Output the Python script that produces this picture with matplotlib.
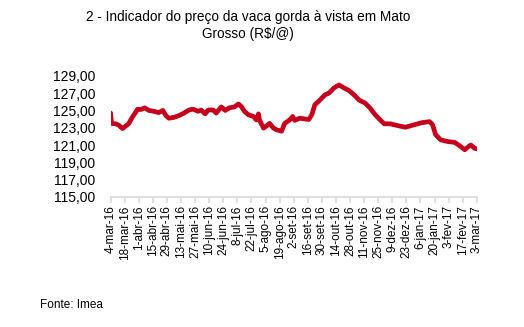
import matplotlib
matplotlib.use("Agg")
import matplotlib.pyplot as plt
import numpy as np
import pandas as pd

# price indicator, R$/@
dates = [
    "2016-03-04", "2016-03-05", "2016-03-09", "2016-03-12", "2016-03-16", "2016-03-19",
    "2016-03-22", "2016-03-25", "2016-03-31", "2016-04-03", "2016-04-07", "2016-04-11",
    "2016-04-16", "2016-04-21", "2016-04-25", "2016-04-28", "2016-05-01", "2016-05-06",
    "2016-05-11", "2016-05-16", "2016-05-21", "2016-05-25", "2016-05-30", "2016-06-02",
    "2016-06-06", "2016-06-09", "2016-06-14", "2016-06-17", "2016-06-22", "2016-06-26",
    "2016-06-30", "2016-07-05", "2016-07-09", "2016-07-12", "2016-07-15", "2016-07-19",
    "2016-07-24", "2016-07-27", "2016-07-29", "2016-07-30", "2016-08-03", "2016-08-06",
    "2016-08-09", "2016-08-13", "2016-08-16", "2016-08-21", "2016-08-24", "2016-08-29",
    "2016-09-01", "2016-09-03", "2016-09-08", "2016-09-17", "2016-09-20", "2016-09-23",
    "2016-09-28", "2016-10-03", "2016-10-07", "2016-10-12", "2016-10-17", "2016-10-22",
    "2016-10-27", "2016-11-01", "2016-11-06", "2016-11-12", "2016-11-17", "2016-11-22",
    "2016-11-27", "2016-12-01", "2016-12-07", "2016-12-14", "2016-12-22", "2016-12-31",
    "2017-01-08", "2017-01-15", "2017-01-18", "2017-01-21", "2017-01-26", "2017-02-02",
    "2017-02-09", "2017-02-14", "2017-02-19", "2017-02-22", "2017-02-25", "2017-03-01",
    "2017-03-03",
]
prices = [
    124.70, 123.50, 123.45, 123.30, 122.90, 123.20,
    123.45, 124.10, 125.15, 125.10, 125.30, 125.00,
    124.90, 124.75, 125.00, 124.40, 124.10, 124.20,
    124.40, 124.70, 125.05, 125.15, 124.90, 125.05,
    124.60, 125.05, 125.05, 124.70, 125.40, 125.00,
    125.30, 125.40, 125.75, 125.45, 124.90, 124.50,
    124.30, 123.90, 124.60, 123.90, 122.95, 123.20,
    123.50, 122.95, 122.75, 122.60, 123.50, 123.90,
    124.30, 123.85, 124.10, 123.95, 124.50, 125.65,
    126.20, 126.80, 127.00, 127.60, 127.95, 127.60,
    127.30, 126.80, 126.20, 125.85, 125.25, 124.50,
    123.90, 123.45, 123.45, 123.25, 123.05, 123.35,
    123.60, 123.70, 123.35, 122.20, 121.60, 121.40,
    121.30, 120.90, 120.45, 120.75, 121.00, 120.60,
    120.55,
]

tick_dates = pd.date_range("2016-03-04", "2017-03-03", freq="14D")
tick_labels = [
    "4-mar-16", "18-mar-16", "1-abr-16", "15-abr-16", "29-abr-16", "13-mai-16",
    "27-mai-16", "10-jun-16", "24-jun-16", "8-jul-16", "22-jul-16", "5-ago-16",
    "19-ago-16", "2-set-16", "16-set-16", "30-set-16", "14-out-16", "28-out-16",
    "11-nov-16", "25-nov-16", "9-dez-16", "23-dez-16", "6-jan-17", "20-jan-17",
    "3-fev-17", "17-fev-17", "3-mar-17",
]
y_ticks = np.arange(115, 130, 2)

plt.rcParams["font.family"] = ["Liberation Sans", "DejaVu Sans"]

fig = plt.figure(figsize=(5.24, 3.27), dpi=100)
ax = fig.add_axes([0.211, 0.398, 0.699, 0.370])

ax.plot(pd.to_datetime(dates), prices, color="#c4001c", lw=3.4,
        solid_joinstyle="round", solid_capstyle="round")

ax.set_xlim(tick_dates[0], tick_dates[-1])
ax.set_ylim(115, 129)
ax.set_yticks(y_ticks)
ax.set_yticklabels([f"{v:.2f}".replace(".", ",") for v in y_ticks], fontsize=10)
ax.set_xticks(tick_dates)
ax.set_xticklabels(tick_labels, rotation=90, fontsize=8.5)

for s in ["top", "right", "left"]:
    ax.spines[s].set_visible(False)
ax.spines["bottom"].set_color("#d9d9d9")
ax.spines["bottom"].set_linewidth(1.2)
ax.tick_params(axis="y", length=0, pad=11)
ax.tick_params(axis="x", length=4, color="#d9d9d9", width=1.2, pad=2)

fig.text(0.474, 0.923, "2 - Indicador do preço da vaca gorda à vista em Mato\nGrosso (R$/@)",
         ha="center", va="center", fontsize=9.8, linespacing=1.3)
fig.text(0.076, 0.067, "Fonte: Imea", ha="left", va="center", fontsize=8.5)

fig.savefig("out.png", dpi=100)
plt.close(fig)
